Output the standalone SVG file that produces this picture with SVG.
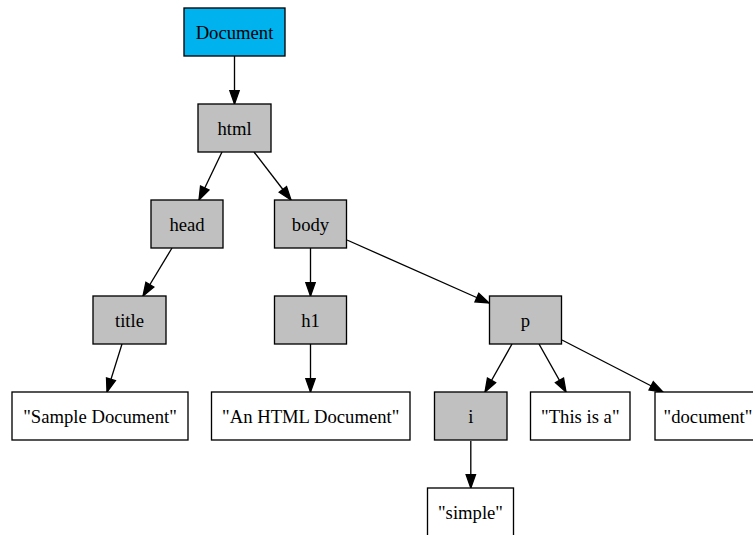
<svg xmlns="http://www.w3.org/2000/svg" width="753" height="535" viewBox="0 0 753 535">
  <style>
    .node rect { stroke: #000; stroke-width: 1.33; }
    .elem rect { fill: #c0c0c0; }
    .txt rect { fill: #fff; }
    .root rect { fill: #00b2ee; }
    .node text { font-family: "Liberation Serif", "Times New Roman", serif; font-size: 18.67px; text-anchor: middle; fill: #000; }
    .edges line { stroke: #000; stroke-width: 1.33; marker-end: url(#arrow); }
  </style>
  <defs>
    <marker id="arrow" markerUnits="userSpaceOnUse" markerWidth="16" markerHeight="12" refX="13.3" refY="4.67" orient="auto" overflow="visible">
      <path d="M0,0 L13.3,4.67 L0,9.33 Z" fill="#000" stroke="#000" stroke-width="1.33"/>
    </marker>
  </defs>
  <rect width="753" height="535" fill="#fff"/>

  <g class="edges">
    <line x1="234.5" y1="56" x2="234.5" y2="104"/>
    <line x1="222" y1="152" x2="199" y2="200"/>
    <line x1="254" y1="152" x2="291" y2="200"/>
    <line x1="172" y1="248" x2="143" y2="296"/>
    <line x1="122" y1="344" x2="107" y2="392"/>
    <line x1="310.5" y1="248" x2="310.5" y2="296"/>
    <line x1="347" y1="240" x2="489" y2="303"/>
    <line x1="310.5" y1="344" x2="310.5" y2="392"/>
    <line x1="512" y1="344" x2="485" y2="392"/>
    <line x1="539" y1="344" x2="566" y2="392"/>
    <line x1="562" y1="340" x2="663" y2="392"/>
    <line x1="470.8" y1="441" x2="470.8" y2="488"/>
  </g>

  <g id="node-document" class="node root">
    <rect x="184" y="8" width="101" height="48"/>
    <text x="234.5" y="38.5">Document</text>
  </g>
  <g id="node-html" class="node elem">
    <rect x="198" y="104" width="73" height="48"/>
    <text x="234.5" y="134.5">html</text>
  </g>
  <g id="node-head" class="node elem">
    <rect x="151" y="200" width="72" height="48"/>
    <text x="187" y="230.5">head</text>
  </g>
  <g id="node-body" class="node elem">
    <rect x="274.5" y="200" width="72" height="48"/>
    <text x="310.5" y="230.5">body</text>
  </g>
  <g id="node-title" class="node elem">
    <rect x="93" y="296" width="73" height="48"/>
    <text x="129.5" y="326.5">title</text>
  </g>
  <g id="node-h1" class="node elem">
    <rect x="274.5" y="296" width="72" height="48"/>
    <text x="310.5" y="326.5">h1</text>
  </g>
  <g id="node-p" class="node elem">
    <rect x="489.5" y="296" width="72" height="48"/>
    <text x="525.5" y="326.5">p</text>
  </g>
  <g id="node-text-sample" class="node txt">
    <rect x="12" y="392" width="176" height="48"/>
    <text x="100" y="422.5">"Sample Document"</text>
  </g>
  <g id="node-text-heading" class="node txt">
    <rect x="211.5" y="392" width="198.5" height="48"/>
    <text x="310.7" y="422.5">"An HTML Document"</text>
  </g>
  <g id="node-i" class="node elem">
    <rect x="434.5" y="392" width="72.5" height="48"/>
    <text x="470.8" y="422.5">i</text>
  </g>
  <g id="node-text-this" class="node txt">
    <rect x="530.5" y="392" width="99.5" height="48"/>
    <text x="580.3" y="422.5">"This is a"</text>
  </g>
  <g id="node-text-document" class="node txt">
    <rect x="655" y="392" width="106" height="48"/>
    <text x="708" y="422.5">"document"</text>
  </g>
  <g id="node-text-simple" class="node txt">
    <rect x="427.5" y="488" width="86" height="48"/>
    <text x="470.5" y="518.5">"simple"</text>
  </g>
</svg>
